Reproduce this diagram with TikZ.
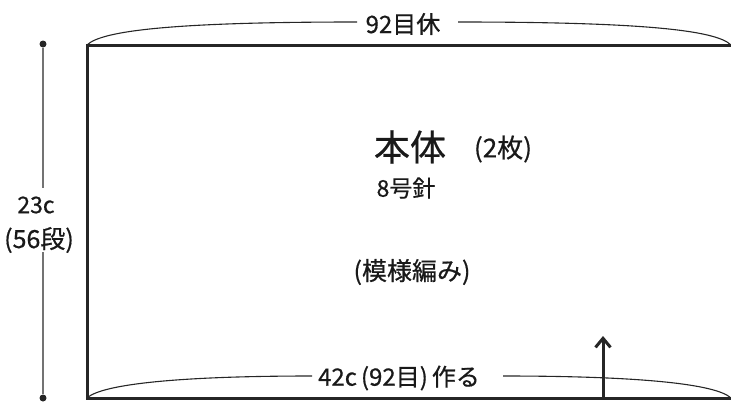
\documentclass[tikz,border=0pt]{standalone}
\usepackage{fontspec}
\setmainfont{Noto Sans CJK JP}[FakeBold=0.6]
\usetikzlibrary{arrows.meta}
\tikzset{
  heavy/.style={line width=3pt, draw=black!85},
  brace/.style={line width=1.1pt, draw=black!85},
  dimline/.style={line width=1.6pt, draw=black!55},
  dimdot/.style={circle, fill=black!85, inner sep=0pt, minimum size=7pt},
  lbl/.style={inner sep=0pt, text=black!90, font=\fontsize{24}{24}\selectfont},
}
\begin{document}
\begin{tikzpicture}[x=1pt,y=-1pt]
\useasboundingbox (0,0) rectangle (731,402);
% corners
\coordinate (tl) at (87,45);
\coordinate (tr) at (733,45);
\coordinate (bl) at (87,398);
\coordinate (br) at (733,398);
% body outline
\draw[heavy, line cap=rect] (tr) -- (tl) -- (bl) -- (br);
% top width brace
\node[lbl] (topw) at (403,24) {92目休};
\draw[brace] (87,45) .. controls (102,30) and (180,22) .. (357,22);
\draw[brace] (458,22) .. controls (640,22) and (716,30) .. (731,45);
% bottom width brace
\node[lbl] (botw) at (399,378) {42c\,(92目)\,作る};
\draw[brace] (87,398) .. controls (102,384) and (180,376) .. (312,376);
\draw[brace] (503,376) .. controls (640,376) and (716,384) .. (731,398);
% height dimension
\node[dimdot] (dtop) at (43,44) {};
\node[dimdot] (dbot) at (43,398) {};
\node[lbl, font=\fontsize{23}{23}\selectfont] (h1) at (36,205) {23c};
\node[lbl, font=\fontsize{25}{25}\selectfont] (h2) at (39,240) {(56段)};
\draw[dimline] (dtop) -- (43,188);
\draw[dimline] (43,252) -- (dbot);
% labels inside
\node[lbl, font=\fontsize{36}{36}\selectfont] (title) at (410,147) {本体};
\node[lbl, font=\fontsize{26}{26}\selectfont] (count) at (503,149) {(2枚)};
\node[lbl, font=\fontsize{23}{23}\selectfont] (needle) at (406,188) {8号針};
\node[lbl, font=\fontsize{25}{25}\selectfont] (patt) at (412,272) {(模様編み)};
% direction arrow
\coordinate (abase) at (603,398);
\coordinate (atip) at (603,336);
\draw[heavy, -{Straight Barb[length=9pt,width=15pt,line width=3pt]}] (abase) -- (atip);
\end{tikzpicture}
\end{document}
